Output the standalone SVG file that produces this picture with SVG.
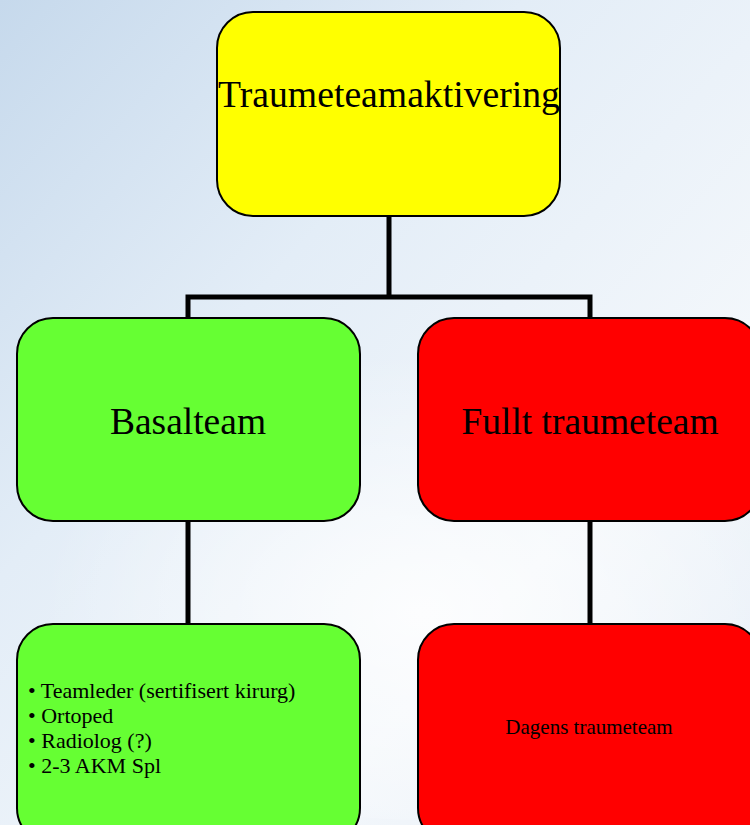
<svg xmlns="http://www.w3.org/2000/svg" width="750" height="825" viewBox="0 0 750 825">
<defs>
<linearGradient id="bg" x1="0" y1="0" x2="1" y2="1">
<stop offset="0" stop-color="#c6d9ec"/>
<stop offset="0.35" stop-color="#e3edf7"/>
<stop offset="0.7" stop-color="#f3f7fb"/>
<stop offset="1" stop-color="#e6eef7"/>
</linearGradient>
<radialGradient id="glow" cx="0.5" cy="0.6" r="0.5">
<stop offset="0" stop-color="#ffffff" stop-opacity="0.8"/>
<stop offset="1" stop-color="#ffffff" stop-opacity="0"/>
</radialGradient>
<style>
.box{stroke:#000;stroke-width:2}
.yellow{fill:#ffff00}
.green{fill:#66ff33}
.red{fill:#ff0000}
.conn{stroke:#000;stroke-width:5;fill:none}
text{font-family:"Liberation Serif","Times New Roman",serif;fill:#000}
.big{font-size:37.7px;text-anchor:middle}
.mid{font-size:37.5px;text-anchor:middle}
.small{font-size:22px}
</style>
</defs>
<rect width="750" height="825" fill="url(#bg)"/>
<ellipse cx="420" cy="560" rx="380" ry="260" fill="url(#glow)"/>
<g id="connectors">
<path class="conn" d="M389 216 V297 M188 318 V297 H590 V318"/>
<path class="conn" d="M188 521 V624"/>
<path class="conn" d="M590 521 V624"/>
</g>
<g id="top">
<rect class="box yellow" x="217" y="12" width="343" height="204" rx="36"/>
<text class="big" x="389" y="107">Traumeteamaktivering</text>
</g>
<g id="basal">
<rect class="box green" x="17" y="318" width="343" height="203" rx="36"/>
<text class="mid" x="188" y="434">Basalteam</text>
</g>
<g id="fullt">
<rect class="box red" x="418" y="318" width="343" height="203" rx="36"/>
<text class="mid" x="590" y="434">Fullt traumeteam</text>
</g>
<g id="basal-list">
<rect class="box green" x="17" y="624" width="343" height="220" rx="36"/>
<text class="small" x="28" y="698">• Teamleder (sertifisert kirurg)</text>
<text class="small" x="28" y="723">• Ortoped</text>
<text class="small" x="28" y="748">• Radiolog (?)</text>
<text class="small" x="28" y="773">• 2-3 AKM Spl</text>
</g>
<g id="dagens">
<rect class="box red" x="418" y="624" width="343" height="220" rx="36"/>
<text x="589" y="734" text-anchor="middle" font-size="21">Dagens traumeteam</text>
</g>
</svg>
